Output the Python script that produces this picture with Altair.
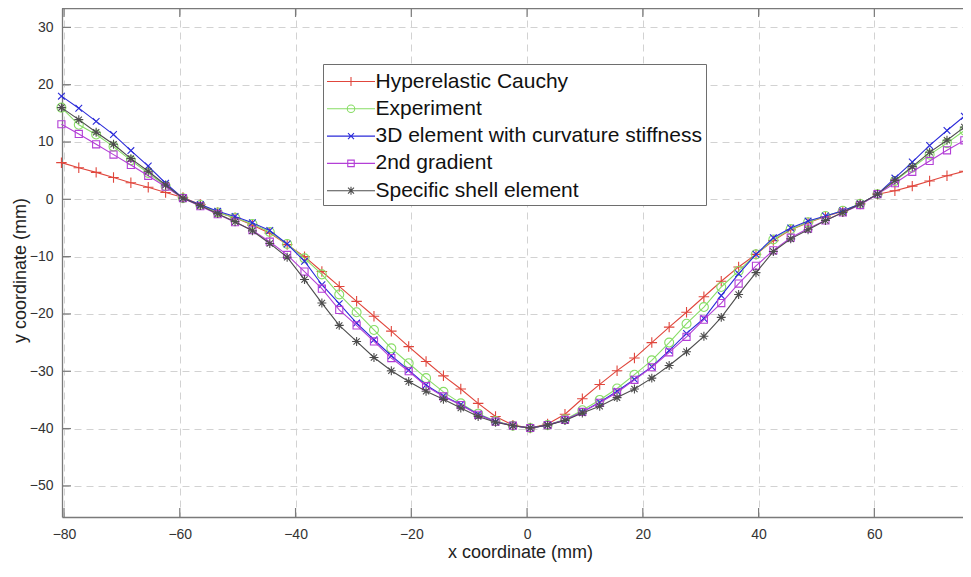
import altair as alt
import pandas as pd

# x positions of the samples (mm)
x_vals = [-80.45, -77.45, -74.45, -71.45, -68.45, -65.45, -62.45, -59.45, -56.45, -53.45,
          -50.45, -47.45, -44.45, -41.45, -38.45, -35.45, -32.45, -29.45, -26.45, -23.45,
          -20.45, -17.45, -14.45, -11.45, -8.45, -5.45, -2.45, 0.55, 3.55, 6.55,
          9.55, 12.55, 15.55, 18.55, 21.55, 24.55, 27.55, 30.55, 33.55, 36.55,
          39.55, 42.55, 45.55, 48.55, 51.55, 54.55, 57.55, 60.55, 63.55, 66.55,
          69.55, 72.55, 75.55, 78.55]

hyperelastic = [6.4, 5.5, 4.7, 3.8, 2.9, 2.1, 1.2, 0.3,
                -0.9, -2.3, -3.2, -4.5, -5.9, -7.9, -10.0, -12.6, -15.2, -17.8, -20.4, -23.0,
                -25.7, -28.3, -30.8, -33.1, -35.6, -37.9, -39.4, -39.9,
                -39.2, -37.5, -34.8, -32.3, -29.9, -27.7, -25.0, -22.3, -19.7, -17.0,
                -14.3, -11.8, -9.6, -7.2, -5.3, -4.1, -3.0, -2.1, -0.8, 0.9,
                1.5, 2.3, 3.2, 4.1, 4.9, 5.7]
experiment = [16.0, 13.0, 11.3, 9.2, 6.8, 4.6, 2.3, 0.2,
              -1.0, -2.3, -3.2, -4.3, -5.7, -7.8, -10.3, -13.1, -16.6, -19.7, -22.8, -26.0,
              -28.6, -31.2, -33.6, -35.6, -37.4, -38.7, -39.5, -39.9,
              -39.4, -38.4, -36.8, -35.0, -33.0, -30.6, -28.1, -25.0, -21.7, -18.8,
              -15.3, -12.5, -9.6, -7.0, -5.2, -4.0, -2.9, -2.0, -0.8, 0.9,
              3.2, 5.5, 7.8, 9.8, 12.0, 14.1]
element3d = [18.0, 15.9, 13.6, 11.3, 8.5, 5.8, 2.8, 0.2,
             -0.9, -2.1, -3.0, -4.1, -5.45, -7.8, -10.8, -14.9, -18.2, -21.6, -24.5, -27.3,
             -29.8, -32.4, -34.3, -35.8, -37.5, -38.8, -39.5, -39.9,
             -39.4, -38.5, -37.1, -35.4, -33.5, -31.4, -29.2, -26.4, -23.4, -20.8,
             -16.8, -13.0, -9.6, -6.7, -5.0, -3.8, -2.9, -2.0, -0.8, 0.9,
             3.7, 6.5, 9.4, 12.0, 14.5, 17.0]
gradient2 = [13.1, 11.4, 9.6, 7.8, 6.0, 4.1, 2.2, 0.2,
             -1.2, -2.6, -4.0, -5.4, -7.4, -9.7, -12.6, -15.6, -19.3, -22.0, -24.8, -27.7,
             -30.0, -32.6, -34.4, -35.9, -37.6, -38.8, -39.5, -39.9,
             -39.4, -38.5, -37.1, -35.5, -33.7, -31.5, -29.3, -26.7, -24.0, -21.0,
             -18.1, -14.7, -11.6, -8.9, -6.7, -5.1, -3.7, -2.3, -1.0, 0.9,
             2.8, 4.8, 6.7, 8.55, 10.3, 12.1]
shell = [16.0, 13.9, 11.7, 9.6, 7.1, 4.9, 2.5, 0.2,
         -1.1, -2.5, -3.9, -5.5, -7.7, -10.1, -14.0, -18.1, -22.0, -24.8, -27.6, -29.9,
         -31.8, -33.5, -34.9, -36.4, -37.9, -38.9, -39.5, -39.9,
         -39.4, -38.6, -37.3, -36.1, -34.6, -33.1, -31.2, -29.0, -26.6, -23.9,
         -20.6, -16.6, -12.8, -9.1, -6.9, -5.3, -3.7, -2.3, -0.8, 0.9,
         3.3, 5.7, 8.2, 10.3, 12.6, 14.9]

series_names = ["Hyperelastic Cauchy", "Experiment", "3D element with curvature stiffness",
                "2nd gradient", "Specific shell element"]
series_values = [hyperelastic, experiment, element3d, gradient2, shell]
series_colors = ["#e0463c", "#88dd66", "#2b2bd9", "#b33fd6", "#4d4d4d"]

x_ticks = [-80, -60, -40, -20, 0, 20, 40, 60]
y_ticks = [-50, -40, -30, -20, -10, 0, 10, 20, 30]

# marker glyphs (unit paths)
PLUS = "M-1,0L1,0M0,-1L0,1"
CIRC = "M1,0A1,1,0,1,1,-1,0A1,1,0,1,1,1,0Z"
XMARK = "M-0.8,-0.8L0.8,0.8M-0.8,0.8L0.8,-0.8"
SQUARE = "M-0.85,-0.85L0.85,-0.85L0.85,0.85L-0.85,0.85Z"
STAR = "M-1,0L1,0M0,-1L0,1M-0.7,-0.7L0.7,0.7M-0.7,0.7L0.7,-0.7"
marker_paths = [PLUS, CIRC, XMARK, SQUARE, STAR]
marker_sizes = [110, 80, 70, 70, 80]

# legend glyphs: line segment with the marker in the middle
LINE = "M-4.8,0L4.8,0"
legend_paths = [
    LINE + "M0,-0.9L0,0.9",
    LINE + "M0.75,0A0.75,0.75,0,1,1,-0.75,0A0.75,0.75,0,1,1,0.75,0",
    LINE + "M-0.6,-0.6L0.6,0.6M-0.6,0.6L0.6,-0.6",
    LINE + "M-0.65,-0.65L0.65,-0.65L0.65,0.65L-0.65,0.65Z",
    LINE + "M0,-0.8L0,0.8M-0.6,-0.6L0.6,0.6M-0.6,0.6L0.6,-0.6",
]

rows = []
for name, vals in zip(series_names, series_values):
    for xv, yv in zip(x_vals, vals):
        rows.append({"series": name, "x": xv, "y": yv})
df = pd.DataFrame(rows)

W, H = 901, 509
xscale = alt.Scale(domain=[-80.35, -80.35 + W / 5.788], nice=False, zero=False)
yscale = alt.Scale(domain=[-55.43, 33.38], nice=False, zero=False)

x_axis = alt.Axis(values=x_ticks, format="d", title="x coordinate (mm)", grid=True,
                  ticks=False, tickSize=0, labelPadding=10, titlePadding=2, titleX=458)
y_axis = alt.Axis(values=y_ticks, format="d", title="y coordinate (mm)", grid=True,
                  ticks=False, tickSize=0, labelPadding=9, titleX=-33, titleY=262)

def X(field):
    return alt.X(field, scale=xscale, axis=x_axis)

def Y(field):
    return alt.Y(field, scale=yscale, axis=y_axis)

base = alt.Chart(df)
layers = []
for name, col, path, sz in zip(series_names, series_colors, marker_paths, marker_sizes):
    sub = base.transform_filter(alt.datum.series == name)
    layers.append(sub.mark_line(color=col, strokeWidth=1.1).encode(x=X("x:Q"), y=Y("y:Q"), order="x:Q"))
    layers.append(sub.mark_point(shape=path, size=sz, color=col, filled=False,
                                 strokeWidth=1.1, opacity=1).encode(x=X("x:Q"), y=Y("y:Q")))

legend_layer = base.transform_filter("false").mark_point(filled=False, size=100, opacity=1,
                                                        strokeWidth=1.1).encode(
    x=X("x:Q"),
    y=Y("y:Q"),
    color=alt.Color("series:N", scale=alt.Scale(domain=series_names, range=series_colors),
                    legend=alt.Legend(title=" ", orient="none", legendX=261, legendY=56)),
    shape=alt.Shape("series:N", scale=alt.Scale(domain=series_names, range=legend_paths),
                    legend=alt.Legend(title=" ", orient="none", legendX=261, legendY=56)),
)

xt = pd.DataFrame({"x": x_ticks})
yt = pd.DataFrame({"y": y_ticks})
tick_col = "#7a7a7a"
tick_bottom = alt.Chart(xt).mark_rule(color=tick_col, strokeWidth=1.2).encode(
    x=X("x:Q"), y=alt.value(H), y2=alt.value(H - 9))
tick_top = alt.Chart(xt).mark_rule(color=tick_col, strokeWidth=1.2).encode(
    x=X("x:Q"), y=alt.value(0), y2=alt.value(9))
tick_left = alt.Chart(yt).mark_rule(color=tick_col, strokeWidth=1.2).encode(
    y=Y("y:Q"), x=alt.value(0), x2=alt.value(9))
top_border = alt.Chart(pd.DataFrame({"a": [0]})).mark_rule(color=tick_col, strokeWidth=1.3).encode(
    x=alt.value(0), x2=alt.value(W), y=alt.value(0.6))

chart = alt.layer(tick_bottom, tick_top, tick_left, top_border, *layers, legend_layer).properties(
    width=W, height=H,
    autosize=alt.AutoSizeParams(type="none"),
    padding={"left": 54, "top": 0, "right": 0, "bottom": 45},
).configure_view(
    stroke=None
).configure_axis(
    gridColor="#d2d2d2", gridDash=[7, 5], gridWidth=1,
    domain=True, domainColor=tick_col, domainWidth=1.3,
    labelFont="Liberation Sans", labelFontSize=14, labelColor="#333333",
    titleFont="Liberation Sans", titleFontSize=18, titleFontWeight="normal", titleColor="#222222",
).configure_legend(
    labelFont="Liberation Sans", labelFontSize=21, labelColor="#111111",
    titleFontSize=1, titlePadding=2,
    strokeColor="#6e6e6e", fillColor="white", padding=4, cornerRadius=0,
    symbolSize=100, symbolStrokeWidth=1.1, symbolOffset=13.5, labelOffset=14,
    rowPadding=5.3, labelLimit=500,
)

chart.save("out.html", embed_options={"renderer": "svg", "actions": False})
